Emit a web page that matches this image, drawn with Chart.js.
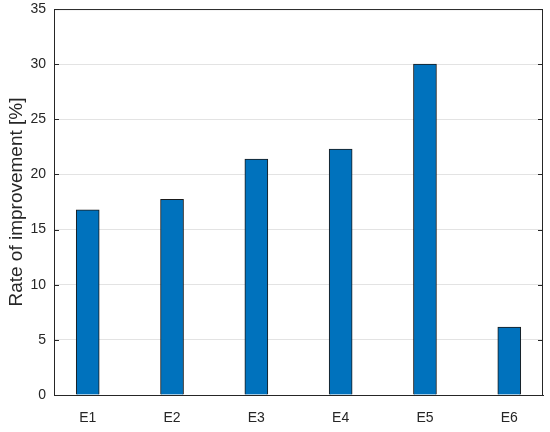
<!DOCTYPE html>
<html>
<head>
<meta charset="utf-8">
<script src="https://cdn.jsdelivr.net/npm/chart.js@4.4.0/dist/chart.umd.min.js"></script>
<style>
	html, body { margin: 0; padding: 0; background: #fff; }
	#wrap { width: 550px; height: 432px; }
</style>
</head>
<body>
<div id="wrap"><canvas id="myChart" width="550" height="432"></canvas></div>
<script>
// data
var categories = ['E1', 'E2', 'E3', 'E4', 'E5', 'E6'];
var improvement = [16.8, 17.75, 21.4, 22.3, 30.0, 6.15];
var yTicks = [0, 5, 10, 15, 20, 25, 30, 35];

var textColor = '#262626';
var barColor = '#0072BD';

// box round the plot plus inward ticks, like the matlab look
var boxPlugin = {
	id: 'box',
	afterDraw: function(chart) {
		var ctx = chart.ctx;
		var a = chart.chartArea;
		var y = chart.scales.y;
		ctx.save();
		ctx.strokeStyle = '#262626';
		ctx.lineWidth = 1;
		ctx.strokeRect(a.left + 0.5, a.top + 0.5, a.right - a.left - 1, a.bottom - a.top);
		ctx.beginPath();
		yTicks.forEach(function(v) {
			var py = Math.round(y.getPixelForValue(v)) + 0.5;
			ctx.moveTo(a.left, py);
			ctx.lineTo(a.left + 5, py);
			ctx.moveTo(a.right, py);
			ctx.lineTo(a.right - 5, py);
		});
		ctx.stroke();
		ctx.restore();
	}
};

var data = {
	datasets: [{
		data: improvement.map(function(v, i) { return { x: i + 1, y: v }; }),
		backgroundColor: barColor,
		borderColor: '#1a1a1a',
		borderWidth: 1,
		barThickness: 23
	}]
};

var myChart = new Chart(document.getElementById('myChart'), {
	type: 'bar',
	data: data,
	options: {
		responsive: false,
		animation: false,
		devicePixelRatio: 1,
		layout: { padding: { top: 0, right: 7, left: 0, bottom: 0 } },
		plugins: { legend: { display: false }, tooltip: { enabled: false } },
		scales: {
			x: {
				type: 'linear',
				min: 0.6,
				max: 6.4,
				offset: false,
				afterBuildTicks: function(axis) {
					axis.ticks = categories.map(function(c, i) { return { value: i + 1 }; });
				},
				afterFit: function(axis) { axis.height = 37; },
				grid: { display: false, drawTicks: false },
				border: { color: '#262626' },
				ticks: {
					padding: 15,
					color: textColor,
					font: { family: 'Arial', size: 14 },
					callback: function(v) { return categories[v - 1]; }
				}
			},
			y: {
				min: 0,
				max: 35,
				afterBuildTicks: function(axis) {
					axis.ticks = yTicks.map(function(v) { return { value: v }; });
				},
				afterFit: function(axis) { axis.width = 54; },
				grid: { color: '#e3e3e3', drawTicks: false },
				border: { color: '#262626' },
				ticks: {
					padding: 8,
					color: textColor,
					// small line height so the top label does not push the plot down
					font: { family: 'Arial', size: 14, lineHeight: 0.15 }
				},
				title: {
					display: true,
					text: 'Rate of improvement [%]',
					color: textColor,
					font: { family: 'Arial', size: 19 },
					padding: { top: 5, bottom: 0 }
				}
			}
		}
	},
	plugins: [boxPlugin]
});
</script>
</body>
</html>
